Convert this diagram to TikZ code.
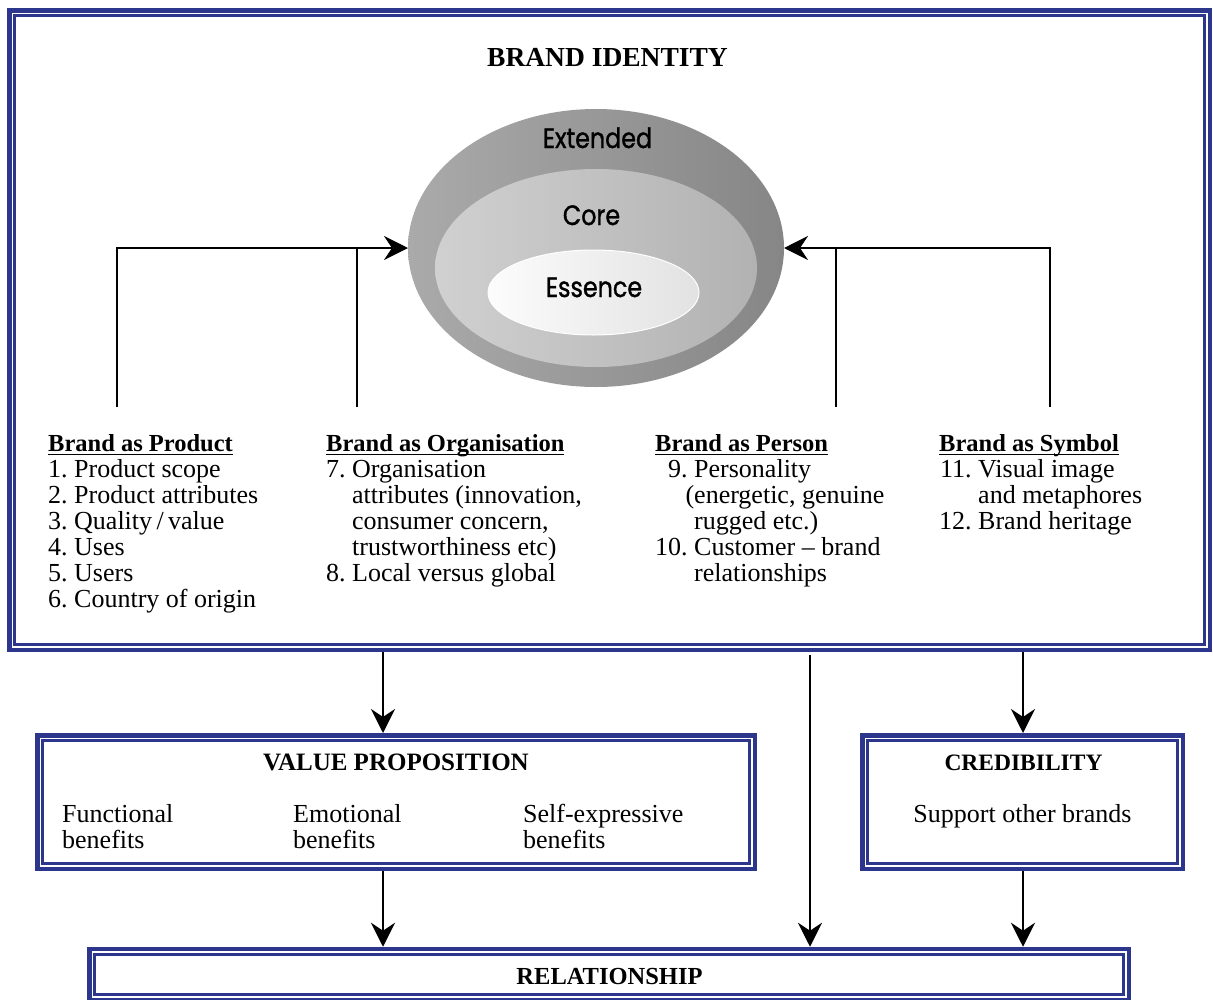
\documentclass[tikz,border=0pt]{standalone}
\usepackage{fontspec}
\setmainfont{Liberation Serif}
\newfontfamily\ellfont[FakeStretch=0.85,FakeBold=1.2]{Poppins}
\usetikzlibrary{arrows.meta,calc,shapes.geometric}
\definecolor{bb}{RGB}{43,54,140}
\definecolor{extL}{RGB}{170,170,170}
\definecolor{extR}{RGB}{134,134,134}
\definecolor{corL}{RGB}{208,208,208}
\definecolor{corR}{RGB}{178,178,178}
\definecolor{essL}{RGB}{252,252,252}
\definecolor{essR}{RGB}{226,226,226}
\newcommand\hd[1]{\setbox0\hbox{\fontsize{24.5}{26}\selectfont\bfseries #1}\rlap{\rule[-4pt]{\wd0}{1.4pt}}\box0}
\newcommand\innerframe[1]{\draw[bb,line width=2.8pt] ([shift={(7.7,7.7)}]#1.north west) rectangle ([shift={(-7.7,-7.7)}]#1.south east);}
\tikzset{
  obox/.style={draw=bb, line width=4.5pt, outer sep=2.25pt, inner sep=0pt, rectangle},
  arr/.style={line width=2.6pt, -{Stealth[length=24pt,width=24pt,inset=8pt]}},
  ln/.style={line width=2.6pt},
  body/.style={inner sep=0pt, font=\fontsize{26}{26}\selectfont},
  ttl/.style={inner sep=0pt, font=\fontsize{#1}{26}\selectfont\bfseries},
  elltxt/.style={inner sep=0pt, font=\ellfont\fontsize{28}{30}\selectfont},
}
\begin{document}
\begin{tikzpicture}[x=1pt,y=-1pt]
\useasboundingbox[fill=white] (0,0) rectangle (1213,999);
% frames
\node[obox, minimum width=1200.5pt, minimum height=639.5pt] (main) at (609.5,330) {};
\innerframe{main}
\node[obox, minimum width=717.5pt, minimum height=133.5pt] (vp) at (396,802) {};
\innerframe{vp}
\node[obox, minimum width=320.5pt, minimum height=133.5pt] (cred) at (1022.5,802) {};
\innerframe{cred}
\node[obox, minimum width=1039.5pt, minimum height=51pt] (rel) at (609,974.5) {};
\innerframe{rel}
% ellipses
\node[ellipse, inner sep=0pt, outer sep=0pt, minimum width=376pt, minimum height=278pt, left color=extL, right color=extR] (ext) at (596,248) {};
\node[ellipse, inner sep=0pt, outer sep=0pt, minimum width=322pt, minimum height=198pt, left color=corL, right color=corR] (core) at (596,268) {};
\node[ellipse, inner sep=0pt, outer sep=0pt, minimum width=211pt, minimum height=85pt, left color=essL, right color=essR, draw=white, line width=1pt] (ess) at (593.5,292.5) {};
\node[elltxt, anchor=base] (textt) at (597.5,148) {Extended};
\node[elltxt, anchor=base] (tcore) at (591.5,225) {Core};
\node[elltxt, anchor=base] (tess) at (594,297) {Essence};
% titles
\node[ttl=27.5, anchor=base] (tbi) at (607.5,66) {BRAND IDENTITY};
\node[ttl=25, anchor=base] (tvp) at (396,770) {VALUE PROPOSITION};
\node[ttl=23.5, anchor=base] (tcr) at (1023.5,770) {CREDIBILITY};
\node[ttl=24.5, anchor=base] (trel) at (609.5,984) {RELATIONSHIP};
% columns
\node[body, anchor=base west] (colP) at (48,451) {\begin{tabular}[t]{@{}r@{\ }l@{}}
\multicolumn{2}{@{}l@{}}{\hd{Brand as Product}}\\
1. & Product scope\\
2. & Product attributes\\
3. & Quality\,/\,value\\
4. & Uses\\
5. & Users\\
6. & Country of origin
\end{tabular}};
\node[body, anchor=base west] (colO) at (326,451) {\begin{tabular}[t]{@{}r@{\ }l@{}}
\multicolumn{2}{@{}l@{}}{\hd{Brand as Organisation}}\\
7. & Organisation\\
 & attributes (innovation,\\
 & consumer concern,\\
 & trustworthiness etc)\\
8. & Local versus global
\end{tabular}};
\node[body, anchor=base west] (colPe) at (655,451) {\begin{tabular}[t]{@{}r@{\ }l@{}}
\multicolumn{2}{@{}l@{}}{\hd{Brand as Person}}\\
9. & Personality\\
 & \llap{(}energetic, genuine\\
 & rugged etc.)\\
10. & Customer -- brand\\
 & relationships
\end{tabular}};
\node[body, anchor=base west] (colS) at (939,451) {\begin{tabular}[t]{@{}r@{\ }l@{}}
\multicolumn{2}{@{}l@{}}{\hd{Brand as Symbol}}\\
11. & Visual image\\
 & and metaphores\\
12. & Brand heritage
\end{tabular}};
% box texts
\node[body, anchor=base west, align=left] (fb) at (62,848) {Functional\\benefits};
\node[body, anchor=base west, align=left] (eb) at (293,848) {Emotional\\benefits};
\node[body, anchor=base west, align=left] (sb) at (523,848) {Self-expressive\\benefits};
\node[body, anchor=base] (sob) at (1022.5,822) {Support other brands};
% feeding connectors
\coordinate (c1) at (117,407);
\coordinate (c2) at (357,407);
\coordinate (c3) at (836,407);
\coordinate (c4) at (1050,407);
\draw[arr] (c1) |- (ext.west);
\draw[ln] (c2) -- (c2 |- ext.west);
\draw[arr] (c4) |- (ext.east);
\draw[ln] (c3) -- (c3 |- ext.east);
% down connectors
\coordinate (xa) at (383,0);
\coordinate (xc) at (1023,0);
\coordinate (m3) at (810,655);
\draw[arr] (main.south -| xa) -- (vp.north -| xa);
\draw[arr] (vp.south -| xa) -- (rel.north -| xa);
\draw[arr] (m3) -- (rel.north -| m3);
\draw[arr] (main.south -| xc) -- (cred.north -| xc);
\draw[arr] (cred.south -| xc) -- (rel.north -| xc);
\end{tikzpicture}
\end{document}
